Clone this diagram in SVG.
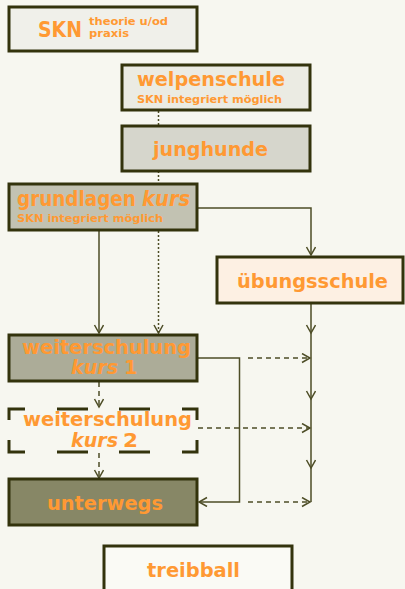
<svg xmlns="http://www.w3.org/2000/svg" width="405" height="589" viewBox="0 0 405 589">
<style>
.box{stroke:#33330c;stroke-width:3}
.t{font-family:"DejaVu Sans",sans-serif;font-weight:bold;fill:#ff9933}
.big{font-size:20px}
.mid{font-size:19px}
.sm{font-size:10.5px}
.it{font-style:italic}
.c{fill:none;stroke:#4d4d26;stroke-width:1.5}
.dash{stroke-dasharray:5 4}
.dot{stroke-dasharray:2 2}
</style>
<defs>
<marker id="a" markerUnits="userSpaceOnUse" markerWidth="12" markerHeight="12" refX="9" refY="5" orient="auto">
<path d="M1,0.5 L9,5 L1,9.5" fill="none" stroke="#4d4d26" stroke-width="1.5"/>
</marker>
</defs>
<rect width="405" height="589" fill="#f7f7f0"/>
<g id="connectors">
<path class="c dot" d="M158.5,111 V333" marker-end="url(#a)"/>
<path class="c" d="M198,208 H311 V255" marker-end="url(#a)"/>
<path class="c" d="M99,230 V333" marker-end="url(#a)"/>
<path class="c" d="M311,303 V333" marker-end="url(#a)"/>
<path class="c" d="M311,333 V399" marker-end="url(#a)"/>
<path class="c" d="M311,399 V468" marker-end="url(#a)"/>
<path class="c" d="M311,468 V502"/>
<path class="c" d="M198,358 H239.5 V502 H199" marker-end="url(#a)"/>
<path class="c dash" d="M248,358 H310" marker-end="url(#a)"/>
<path class="c dash" d="M99,382 V407" marker-end="url(#a)"/>
<path class="c dash" d="M198,428 H310" marker-end="url(#a)"/>
<path class="c dash" d="M99,453 V478" marker-end="url(#a)"/>
<path class="c dash" d="M248,502 H310" marker-end="url(#a)"/>
</g>
<g id="skn">
<rect class="box" x="9" y="7" width="188" height="44" fill="#f0f0ea"/>
<text class="t" x="38" y="37" font-size="21" textLength="44" lengthAdjust="spacingAndGlyphs">SKN</text>
<text class="t sm" x="89" y="25" textLength="79" lengthAdjust="spacingAndGlyphs">theorie u/od</text>
<text class="t sm" x="89" y="37" textLength="40" lengthAdjust="spacingAndGlyphs">praxis</text>
</g>
<g id="welpenschule">
<rect class="box" x="122" y="65" width="188" height="45" fill="#ebebe3"/>
<text class="t big" x="137" y="86" textLength="148" lengthAdjust="spacingAndGlyphs">welpenschule</text>
<text class="t sm" x="137" y="103" textLength="145" lengthAdjust="spacingAndGlyphs">SKN integriert möglich</text>
</g>
<g id="junghunde">
<rect class="box" x="122" y="126" width="188" height="45" fill="#d6d6cc"/>
<text class="t big" x="153" y="156" textLength="115" lengthAdjust="spacingAndGlyphs">junghunde</text>
</g>
<g id="grundlagenkurs">
<rect class="box" x="9" y="184" width="188" height="46" fill="#c2c2b2"/>
<text class="t" transform="translate(17,206) scale(0.875,1)" font-size="21">grundlagen</text>
<text class="t it" transform="translate(142,206) scale(0.93,1)" font-size="21">kurs</text>
<text class="t sm" x="17" y="222" textLength="146" lengthAdjust="spacingAndGlyphs">SKN integriert möglich</text>
</g>
<g id="uebungsschule">
<rect class="box" x="217" y="257" width="186" height="46" fill="#fdf0e3"/>
<text class="t big" x="237" y="288" textLength="151" lengthAdjust="spacingAndGlyphs">übungsschule</text>
</g>
<g id="weiterschulung1">
<rect class="box" x="9" y="335" width="188" height="46" fill="#acac98"/>
<text class="t mid" x="22" y="354" textLength="169" lengthAdjust="spacingAndGlyphs">weiterschulung</text>
<text class="t mid it" x="71" y="374" textLength="47" lengthAdjust="spacingAndGlyphs">kurs</text>
<text class="t mid" x="124" y="374">1</text>
</g>
<g id="weiterschulung2">
<path fill="none" stroke="#33330c" stroke-width="3" d="M9,420 V409 H25 M57,409 H88 M119,409 H150 M182,409 H197 V420 M197,440 V452 H182 M150,452 H119 M88,452 H57 M25,452 H9 V440"/>
<text class="t mid" x="23" y="426" textLength="169" lengthAdjust="spacingAndGlyphs">weiterschulung</text>
<text class="t mid it" x="71" y="447" textLength="47" lengthAdjust="spacingAndGlyphs">kurs</text>
<text class="t mid" x="123" y="447" textLength="15" lengthAdjust="spacingAndGlyphs">2</text>
</g>
<g id="unterwegs">
<rect class="box" x="9" y="479" width="188" height="46" fill="#878766"/>
<text class="t big" x="47" y="510" textLength="116" lengthAdjust="spacingAndGlyphs">unterwegs</text>
</g>
<g id="treibball">
<rect class="box" x="104" y="546" width="188" height="50" fill="#fafaf5"/>
<text class="t big" x="147" y="577" textLength="93" lengthAdjust="spacingAndGlyphs">treibball</text>
</g>
</svg>
